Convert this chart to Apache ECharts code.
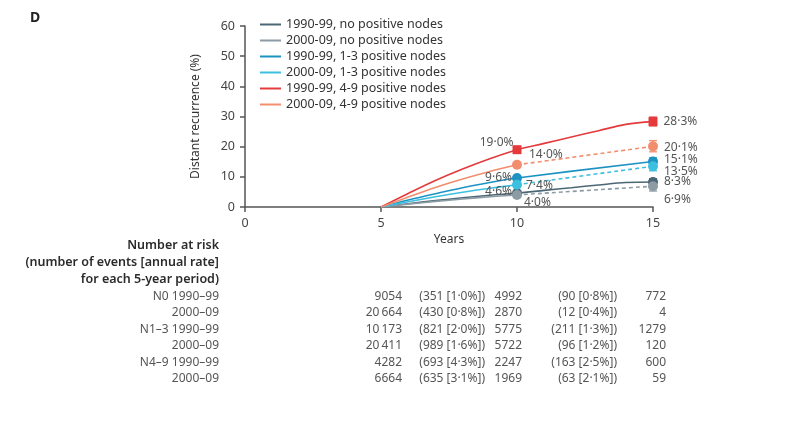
<!DOCTYPE html>
<html><head><meta charset="utf-8">
<script src="https://cdn.jsdelivr.net/npm/echarts@6/dist/echarts.min.js"></script>
<style>html,body{margin:0;padding:0;background:#fff}#c{width:800px;height:433px}</style>
</head><body><div id="c"></div>
<script>
// ---- data ----
const seriesNames = ['1990-99, no positive nodes','2000-09, no positive nodes','1990-99, 1-3 positive nodes','2000-09, 1-3 positive nodes','1990-99, 4-9 positive nodes','2000-09, 4-9 positive nodes'];
const yearsEarly = [5,6,7,8,9,10];
const yearsLate = [10,11,12,13,14,15];
// cumulative distant recurrence (%)
const early_n0_90 = [0,1.1,2.1,3.05,3.9,4.6];
const early_n0_00 = [0,0.95,1.85,2.65,3.4,4.0];
const early_n13_90 = [0,2.3,4.4,6.4,8.1,9.6];
const early_n13_00 = [0,1.75,3.4,4.9,6.2,7.4];
const early_n49_90 = [0,4.5,8.8,12.6,16.0,19.0];
const early_n49_00 = [0,3.3,6.5,9.3,11.8,14.0];
const late_n0_90 = [4.6,5.5,6.4,7.3,8.1,8.3];
const late_n0_00 = [4.0,null,null,null,null,6.9];
const late_n13_90 = [9.6,null,null,null,null,15.1];
const late_n13_00 = [7.4,null,null,null,null,13.5];
const late_n49_90 = [19.0,21.1,23.2,25.3,27.4,28.3];
const late_n49_00 = [14.0,null,null,null,null,20.1];
// 95% CI at 15 years
const ciLow15 = [7.3,5.3,14.0,12.0,26.9,18.3];
const ciHigh15 = [9.4,8.7,16.3,15.1,29.8,22.0];
// value labels
const labels10 = ['4·6%','4·0%','9·6%','7·4%','19·0%','14·0%'];
const labels15 = ['8·3%','6·9%','15·1%','13·5%','28·3%','20·1%'];
const xTicks = [0,5,10,15];
const yTicks = [0,10,20,30,40,50,60];
// number at risk table
const tableTitle = ['Number at risk','(number of events [annual rate]','for each 5-year period)'];
const rowLabels = ['N0 1990–99','2000–09','N1–3 1990–99','2000–09','N4–9 1990–99','2000–09'];
const atRisk5 = [9054,20664,10173,20411,4282,6664];
const events5 = [351,430,821,989,693,635];
const rate5 = ['1·0','0·8','2·0','1·6','4·3','3·1'];
const atRisk10 = [4992,2870,5775,5722,2247,1969];
const events10 = [90,12,211,96,163,63];
const rate10 = ['0·8','0·4','1·3','1·2','2·5','2·1'];
const atRisk15 = [772,4,1279,120,600,59];

// ---- styles ----
const colors = ['#4b6675','#8c9ba4','#1d93c4','#3dbfe0','#e43a3c','#f28d6e'];
const symbols = ['circle','circle','circle','circle','rect','circle'];
const lbl10Pos = [['left',[2,-2]],['right',[0,8]],['left',[2,0]],['right',[2,1]],['left',[3,-7]],['right',[5,-10]]];
const lbl15Pos = [[0,0],[0,13],[0,-2],[0,5],[0,0],[0,1]];
const FONT = '"Noto Sans", "Open Sans", sans-serif';
const earlyArr = [early_n0_90,early_n0_00,early_n13_90,early_n13_00,early_n49_90,early_n49_00];
const lateArr = [late_n0_90,late_n0_00,late_n13_90,late_n13_00,late_n49_90,late_n49_00];
const zip = (xs, ys) => xs.map((x,i)=>[x, ys[i]]);

const series = [];
seriesNames.forEach((name,i)=>{
  const is90 = i % 2 === 0;
  if (is90) {
    series.push({type:'line', name, data: zip(yearsEarly, earlyArr[i]).concat(zip(yearsLate, lateArr[i]).slice(1)),
      smooth:0.35, showSymbol:false, symbol:'none', connectNulls:true, color:colors[i],
      lineStyle:{width:1.6, color:colors[i]}, z:2, silent:true});
  } else {
    series.push({type:'line', name, data: zip(yearsEarly, earlyArr[i]),
      smooth:0.35, showSymbol:false, symbol:'none', color:colors[i],
      lineStyle:{width:1.6, color:colors[i]}, z:2, silent:true});
    series.push({type:'line', name, data: zip(yearsLate, lateArr[i]),
      smooth:0.35, showSymbol:false, symbol:'none', connectNulls:true, color:colors[i],
      lineStyle:{width:1.6, color:colors[i], type:[4,3]}, z:2, silent:true});
  }
});
seriesNames.forEach((name,i)=>{
  series.push({type:'custom', name, color:colors[i], z:3, silent:true,
    data:[[15, ciLow15[i], ciHigh15[i]]],
    renderItem:(params, api)=>{
      const lo = api.coord([api.value(0), api.value(1)]);
      const hi = api.coord([api.value(0), api.value(2)]);
      const st = {stroke: colors[i], lineWidth: 1.3};
      return {type:'group', children:[
        {type:'line', shape:{x1:lo[0],y1:lo[1],x2:hi[0],y2:hi[1]}, style:st},
        {type:'line', shape:{x1:lo[0]-4,y1:lo[1],x2:lo[0]+4,y2:lo[1]}, style:st},
        {type:'line', shape:{x1:hi[0]-4,y1:hi[1],x2:hi[0]+4,y2:hi[1]}, style:st}
      ]};
    }});
});
seriesNames.forEach((name,i)=>{
  const v10 = earlyArr[i][earlyArr[i].length-1];
  const v15 = lateArr[i][lateArr[i].length-1];
  const lt = {color:'#555', fontSize:12, fontFamily:FONT};
  series.push({type:'scatter', name, color:colors[i], symbol:symbols[i], symbolSize: symbols[i]==='rect'?9:10, z:4, silent:true,
    itemStyle:{color:colors[i], opacity:1},
    data:[
      {value:[10, v10], label:Object.assign({show:true, formatter:labels10[i], position:lbl10Pos[i][0], offset:lbl10Pos[i][1], distance:2}, lt)},
      {value:[15, v15], label:Object.assign({show:true, formatter:labels15[i], position:'right', offset:lbl15Pos[i], distance:6}, lt)}
    ]});
});

// table graphics
const fmt = n => n >= 10000 ? String(n).replace(/(\d{2})(\d{3})$/, '$1\u2009$2') : String(n);
const graphics = [{type:'text', left:30, top:11, style:{text:'D', font:'bold 14px '+FONT, fill:'#222'}}];
const titleY = [245, 262, 279];
tableTitle.forEach((t,k)=>graphics.push({type:'text', x:219, y:titleY[k], style:{text:t, align:'right', verticalAlign:'middle', font:'600 12.5px '+FONT, fill:'#2b2b2b'}}));
const rowY = [297, 313, 329.5, 346, 362.3, 378.7];
const colX = [402, 485, 522, 617, 666];
rowLabels.forEach((t,r)=>{
  const cells = [rowLabels[r], fmt(atRisk5[r]), '('+events5[r]+' ['+rate5[r]+'%])', fmt(atRisk10[r]), '('+events10[r]+' ['+rate10[r]+'%])', fmt(atRisk15[r])];
  const xs = [219].concat(colX);
  cells.forEach((c,k)=>graphics.push({type:'text', x:xs[k], y:rowY[r], style:{text:c, align:'right', verticalAlign:'middle', font:'12px '+FONT, fill:'#555'}}));
});

const chart = echarts.init(document.getElementById('c'), null, {renderer:'canvas'});
chart.setOption({
  animation:false,
  textStyle:{fontFamily:FONT},
  grid:{left:245, right:147, top:26, bottom:226, containLabel:false},
  legend:{data:seriesNames, orient:'vertical', left:255, top:13, icon:'rect', itemWidth:21, itemHeight:2, itemGap:3,
    textStyle:{fontSize:12.5, color:'#333', fontFamily:FONT, lineHeight:13}},
  xAxis:{type:'value', min:0, max:15, interval:5, name:'Years', nameLocation:'middle', nameGap:27,
    nameTextStyle:{fontSize:12, color:'#333'},
    axisLine:{lineStyle:{color:'#555', width:1.5}}, axisTick:{show:true, length:5, lineStyle:{color:'#555', width:1.5}},
    axisLabel:{fontSize:12.5, color:'#444', margin:10, customValues:xTicks}, splitLine:{show:false}},
  yAxis:{type:'value', min:0, max:60, interval:10, name:'Distant recurrence (%)', nameLocation:'middle', nameGap:43,
    nameTextStyle:{fontSize:12, color:'#333'},
    axisLine:{show:true, lineStyle:{color:'#555', width:1.5}}, axisTick:{show:true, length:5, lineStyle:{color:'#555', width:1.5}},
    axisLabel:{fontSize:12.5, color:'#444', margin:10, customValues:yTicks}, splitLine:{show:false}},
  series,
  graphic:graphics
});
</script></body></html>
